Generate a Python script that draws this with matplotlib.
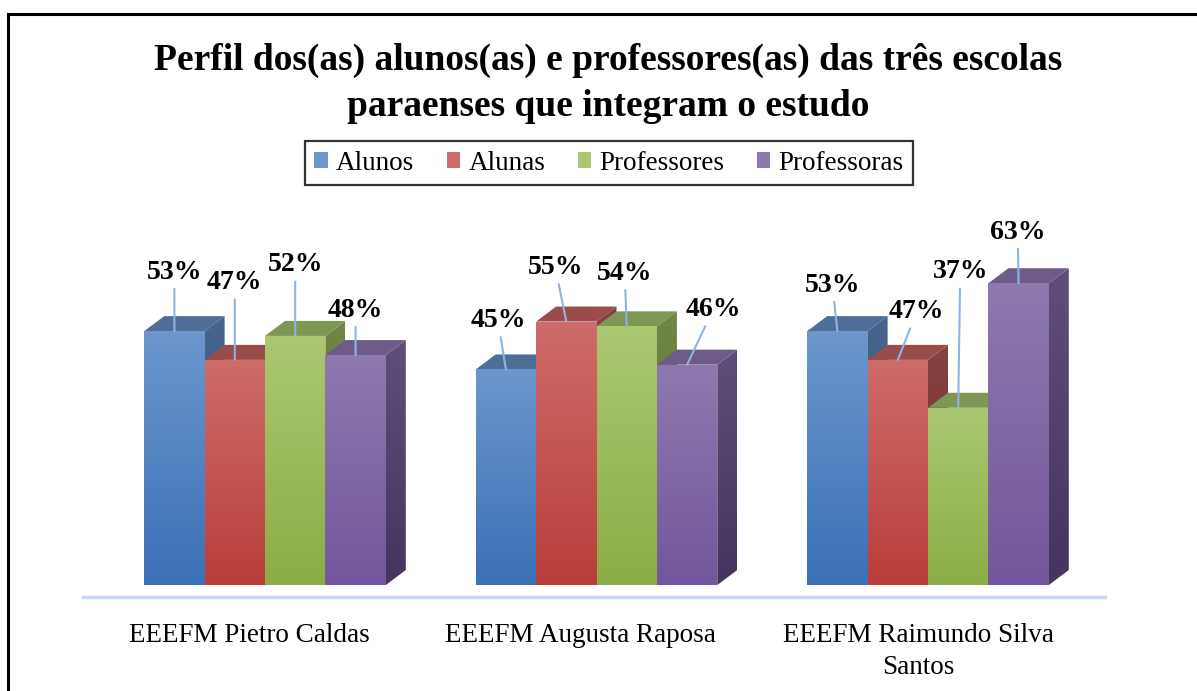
import matplotlib
matplotlib.use("Agg")
import matplotlib.pyplot as plt
from matplotlib.patches import Polygon, Patch
from matplotlib.colors import LinearSegmentedColormap
from matplotlib.lines import Line2D
import matplotlib.transforms as mtransforms
import numpy as np

plt.rcParams['font.family'] = ['Liberation Serif', 'DejaVu Serif']

# data
escolas = ['EEEFM Pietro Caldas', 'EEEFM Augusta Raposa', 'EEEFM Raimundo Silva\nSantos']
series = ['Alunos', 'Alunas', 'Professores', 'Professoras']
alunos = [53, 45, 53]
alunas = [47, 55, 47]
professores = [52, 54, 37]
professoras = [48, 46, 63]
valores = [alunos, alunas, professores, professoras]

titulo = 'Perfil dos(as) alunos(as) e professores(as) das três escolas\nparaenses que integram o estudo'

# colours: (front top, front bottom, top face, side top, side bottom)
cores = [
    ('#6c96cc', '#3b71b6', '#4e6e98', '#46648e', '#33517c'),
    ('#cd6c6a', '#b93e3b', '#9a4c4a', '#854240', '#6d2e2c'),
    ('#abc871', '#8bad47', '#7e9755', '#6f8645', '#5b7332'),
    ('#8e79af', '#73569c', '#6e5b8a', '#5e4e79', '#45345f'),
]

# label offsets in pixels (dx, dy) from the bar's front top centre
offsets = [
    [(0, 59), (-8, 49), (-5, 46)],
    [(0, 77), (-11, 54), (19, 48)],
    [(0, 71), (-2, 53), (2, 136)],
    [(0, 45), (26, 55), (-1, 51)],
]

W, H = 1197, 691
fig = plt.figure(figsize=(W / 100, H / 100), dpi=100)
fig.patch.set_facecolor('white')

# axes laid out in pixels
ax_l, ax_r, ax_b, ax_t = 83, 1105, 597, 200
ax = fig.add_axes([ax_l / W, 1 - ax_b / H, (ax_r - ax_l) / W, (ax_b - ax_t) / H])

px_per_grp = 331.5
px_per_pct = 4.79
x0_px, y0_px = 265, 585
xlim = ((ax_l - x0_px) / px_per_grp, (ax_r - x0_px) / px_per_grp)
ylim = ((y0_px - ax_b) / px_per_pct, (y0_px - ax_t) / px_per_pct)

bw = 60.4 / px_per_grp          # bar width
ddx = 20 / px_per_grp           # depth offset x
ddy = 15 / px_per_pct           # depth offset y


def grad_poly(verts, ctop, cbot, z):
    poly = Polygon(verts, closed=True, fc='none', ec='none', zorder=z)
    ax.add_patch(poly)
    xs = [v[0] for v in verts]
    ys = [v[1] for v in verts]
    cmap = LinearSegmentedColormap.from_list('g', [cbot, ctop])
    grad = np.linspace(0, 1, 64).reshape(-1, 1)
    im = ax.imshow(grad, extent=[min(xs), max(xs), min(ys), max(ys)], origin='lower',
                   aspect='auto', cmap=cmap, zorder=z, interpolation='bilinear')
    im.set_clip_path(poly)


z = 2
for i in range(len(escolas)):
    for j in range(len(series)):
        v = valores[j][i]
        c = cores[j]
        xl = i + (j - 2) * bw
        xr = xl + bw
        # side face
        grad_poly([(xr, 0), (xr + ddx, ddy), (xr + ddx, v + ddy), (xr, v)], c[3], c[4], z)
        # top face
        ax.add_patch(Polygon([(xl, v), (xr, v), (xr + ddx, v + ddy), (xl + ddx, v + ddy)],
                             closed=True, fc=c[2], ec='none', zorder=z + 0.1))
        # front face
        grad_poly([(xl, 0), (xr, 0), (xr, v), (xl, v)], c[0], c[1], z + 0.2)
        z += 1

for j in range(len(series)):
    for i in range(len(escolas)):
        v = valores[j][i]
        xc = i + (j - 1.5) * bw
        dx, dy = offsets[j][i]
        ax.annotate(f'{v}%', xy=(xc, v), xytext=(dx, dy), textcoords='offset pixels',
                    ha='center', va='center', fontsize=20, fontweight='bold',
                    zorder=100,
                    arrowprops=dict(arrowstyle='-', color='#8eb4e3', lw=1.5,
                                    shrinkA=1, shrinkB=0))

ax.set_xlim(*xlim)
ax.set_ylim(*ylim)
ax.set_yticks([])
ax.set_xticks(range(len(escolas)))
ax.set_xticklabels(escolas, fontsize=19.5, linespacing=1.35)
ax.tick_params(axis='x', length=0, pad=19)
shift = mtransforms.ScaledTranslation(-16 / 100, 0, fig.dpi_scale_trans)
labs = ax.get_xticklabels()
for k, lab in enumerate(labs):
    extra = 6 / 100 if k == 2 else 0
    lab.set_transform(lab.get_transform() + shift +
                      mtransforms.ScaledTranslation(extra, 0, fig.dpi_scale_trans))
for s in ['top', 'left', 'right']:
    ax.spines[s].set_visible(False)
ax.spines['bottom'].set_color('#c6d9f0')
ax.spines['bottom'].set_linewidth(2.5)
ax.patch.set_alpha(0)

fig.text(608 / W, 1 - 83.5 / H, titulo, ha='center', va='center',
         fontsize=27, fontweight='bold', linespacing=1.38)

handles = [Patch(facecolor=cores[j][0], edgecolor='none') for j in range(len(series))]
leg = fig.legend(handles, series, loc='center', bbox_to_anchor=(609 / W, 1 - 163 / H),
                 ncol=4, fontsize=19.5, frameon=True, fancybox=False,
                 handlelength=0.5, handleheight=0.5, handletextpad=0.3,
                 columnspacing=1.2, borderpad=0.35, borderaxespad=0,
                 edgecolor='black')
leg.get_frame().set_linewidth(1.6)

# outer frame (left and top edges visible)
fig.add_artist(Line2D([8 / W, 8 / W], [0, 1 - 14 / H], color='black', lw=2.2,
                      transform=fig.transFigure))
fig.add_artist(Line2D([8 / W, 1], [1 - 14 / H, 1 - 14 / H], color='black', lw=2.2,
                      transform=fig.transFigure))

fig.savefig('out.png', dpi=100)
